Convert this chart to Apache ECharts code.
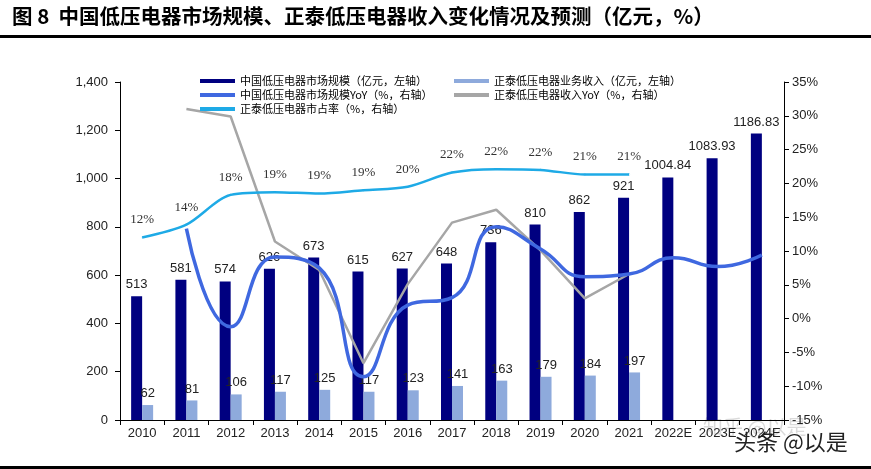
<!DOCTYPE html>
<html><head><meta charset="utf-8">
<script src="https://cdn.jsdelivr.net/npm/echarts@6.0.0/dist/echarts.min.js"></script>
<style>html,body{margin:0;padding:0;background:#fff}#c{width:871px;height:469px}</style>
</head><body><div id="c"></div>
<script>
const categories = ['2010','2011','2012','2013','2014','2015','2016','2017','2018','2019','2020','2021','2022E','2023E','2024E'];
const marketSize = [513,581,574,626,673,615,627,648,736,810,862,921,1004.84,1083.93,1186.83];
const chintRevenue = [62,81,106,117,125,117,123,141,163,179,184,197,null,null,null];
const marketYoY = [null,13.3,-1.2,9.1,7.5,-8.6,2.0,3.1,13.6,10.3,6.2,6.6,9.0,7.7,9.4];
const chintYoY = [null,31.0,29.9,11.4,7.2,-6.6,5.1,14.2,16.1,10.1,3.0,6.6,null,null,null];
const chintShare = [12.0,13.9,18.3,18.7,18.5,19.0,19.5,21.6,22.1,22.0,21.3,21.3,null,null,null];
const shareLabels = ['12%','14%','18%','19%','19%','19%','20%','22%','22%','22%','21%','21%'];
const leftTicks = {min:0, max:1400, interval:200};
const rightTicks = {min:-15, max:35, interval:5};

const names = ['中国低压电器市场规模（亿元，左轴）','正泰低压电器业务收入（亿元，左轴）','中国低压电器市场规模YoY（%，右轴）','正泰低压电器收入YoY（%，右轴）','正泰低压电器市占率（%，右轴）'];
const sans = 'Liberation Sans, Arial, sans-serif';
const cjk = 'Noto Sans CJK SC, sans-serif';
const chart = echarts.init(document.getElementById('c'));
const legendText = {fontFamily: cjk, fontSize: 11, color: '#000', lineHeight: 12};
chart.setOption({
  animation: false,
  backgroundColor: '#fff',
  grid: {left: 120, right: 87, top: 82, bottom: 49},
  legend: [
    {left: 195, top: 70, orient: 'vertical', itemWidth: 35, itemHeight: 4, itemGap: 2, icon: 'rect', data: [names[0], names[2], names[4]], textStyle: legendText},
    {left: 449, top: 70, orient: 'vertical', itemWidth: 35, itemHeight: 4, itemGap: 2, icon: 'rect', data: [names[1], names[3]], textStyle: legendText}
  ],
  xAxis: {
    type: 'category', data: categories,
    axisLine: {lineStyle: {color: '#000', width: 1}},
    axisTick: {show: true, interval: 0, length: 5, lineStyle: {color: '#000'}},
    axisLabel: {interval: 0, fontFamily: sans, fontSize: 13, color: '#222', margin: 7}
  },
  yAxis: [
    {type: 'value', min: leftTicks.min, max: leftTicks.max, interval: leftTicks.interval,
     axisLine: {show: true, lineStyle: {color: '#000'}}, axisTick: {show: true, length: 5, lineStyle: {color: '#000'}},
     splitLine: {show: false},
     axisLabel: {fontFamily: sans, fontSize: 13, color: '#222', margin: 12, formatter: v => v.toLocaleString('en-US')}},
    {type: 'value', min: rightTicks.min, max: rightTicks.max, interval: rightTicks.interval, position: 'right',
     axisLine: {show: true, lineStyle: {color: '#000'}}, axisTick: {show: true, length: 5, lineStyle: {color: '#000'}},
     splitLine: {show: false},
     axisLabel: {fontFamily: sans, fontSize: 13, color: '#222', margin: 8, formatter: '{value}%'}}
  ],
  series: [
    {name: names[0], type: 'bar', data: marketSize, barWidth: 11, barGap: '0%', itemStyle: {color: '#000080'},
     label: {show: true, position: 'top', distance: 5, fontFamily: sans, fontSize: 13, color: '#222'}},
    {name: names[1], type: 'bar', data: chintRevenue, barWidth: 11, barGap: '0%', itemStyle: {color: '#8EAADC'},
     label: {show: true, position: 'top', distance: 5, fontFamily: sans, fontSize: 13, color: '#222'}},
    {name: names[3], type: 'line', yAxisIndex: 1, data: chintYoY, showSymbol: false, symbol: 'none',
     lineStyle: {color: '#A6A6A6', width: 2.5}, itemStyle: {color: '#A6A6A6'}},
    {name: names[4], type: 'line', yAxisIndex: 1, data: chintShare, smooth: 0.3, showSymbol: true, symbolSize: 0.1,
     lineStyle: {color: '#1EAAE6', width: 2.5}, itemStyle: {color: '#1EAAE6'},
     label: {show: true, position: 'top', distance: 10, fontFamily: 'Liberation Serif, serif', fontSize: 13, color: '#333',
       formatter: p => shareLabels[p.dataIndex] || ''}},
    {name: names[2], type: 'line', yAxisIndex: 1, data: marketYoY, smooth: 0.5, showSymbol: false, symbol: 'none',
     lineStyle: {color: '#3F68E0', width: 3.5}, itemStyle: {color: '#3F68E0'}}
  ],
  graphic: [
    {type: 'text', left: 12, top: 6, style: {text: '图 8  中国低压电器市场规模、正泰低压电器收入变化情况及预测（亿元，%）', fontFamily: cjk, fontWeight: 'bold', fontSize: 20.5, fill: '#000'}},
    {type: 'rect', left: 0, top: 35, shape: {width: 871, height: 3}, style: {fill: '#000'}},
    {type: 'rect', left: 0, top: 466, shape: {width: 871, height: 3}, style: {fill: '#000'}},
    {type: 'text', left: 703, top: 417, style: {text: '知乎 @以是', fontFamily: cjk, fontSize: 20, fill: 'rgba(150,150,150,0.35)'}},
    {type: 'text', left: 733, top: 430, style: {text: '头条 @以是', fontFamily: cjk, fontSize: 22, fill: '#222', stroke: '#fff', lineWidth: 2}}
  ]
});
</script>
</body></html>
